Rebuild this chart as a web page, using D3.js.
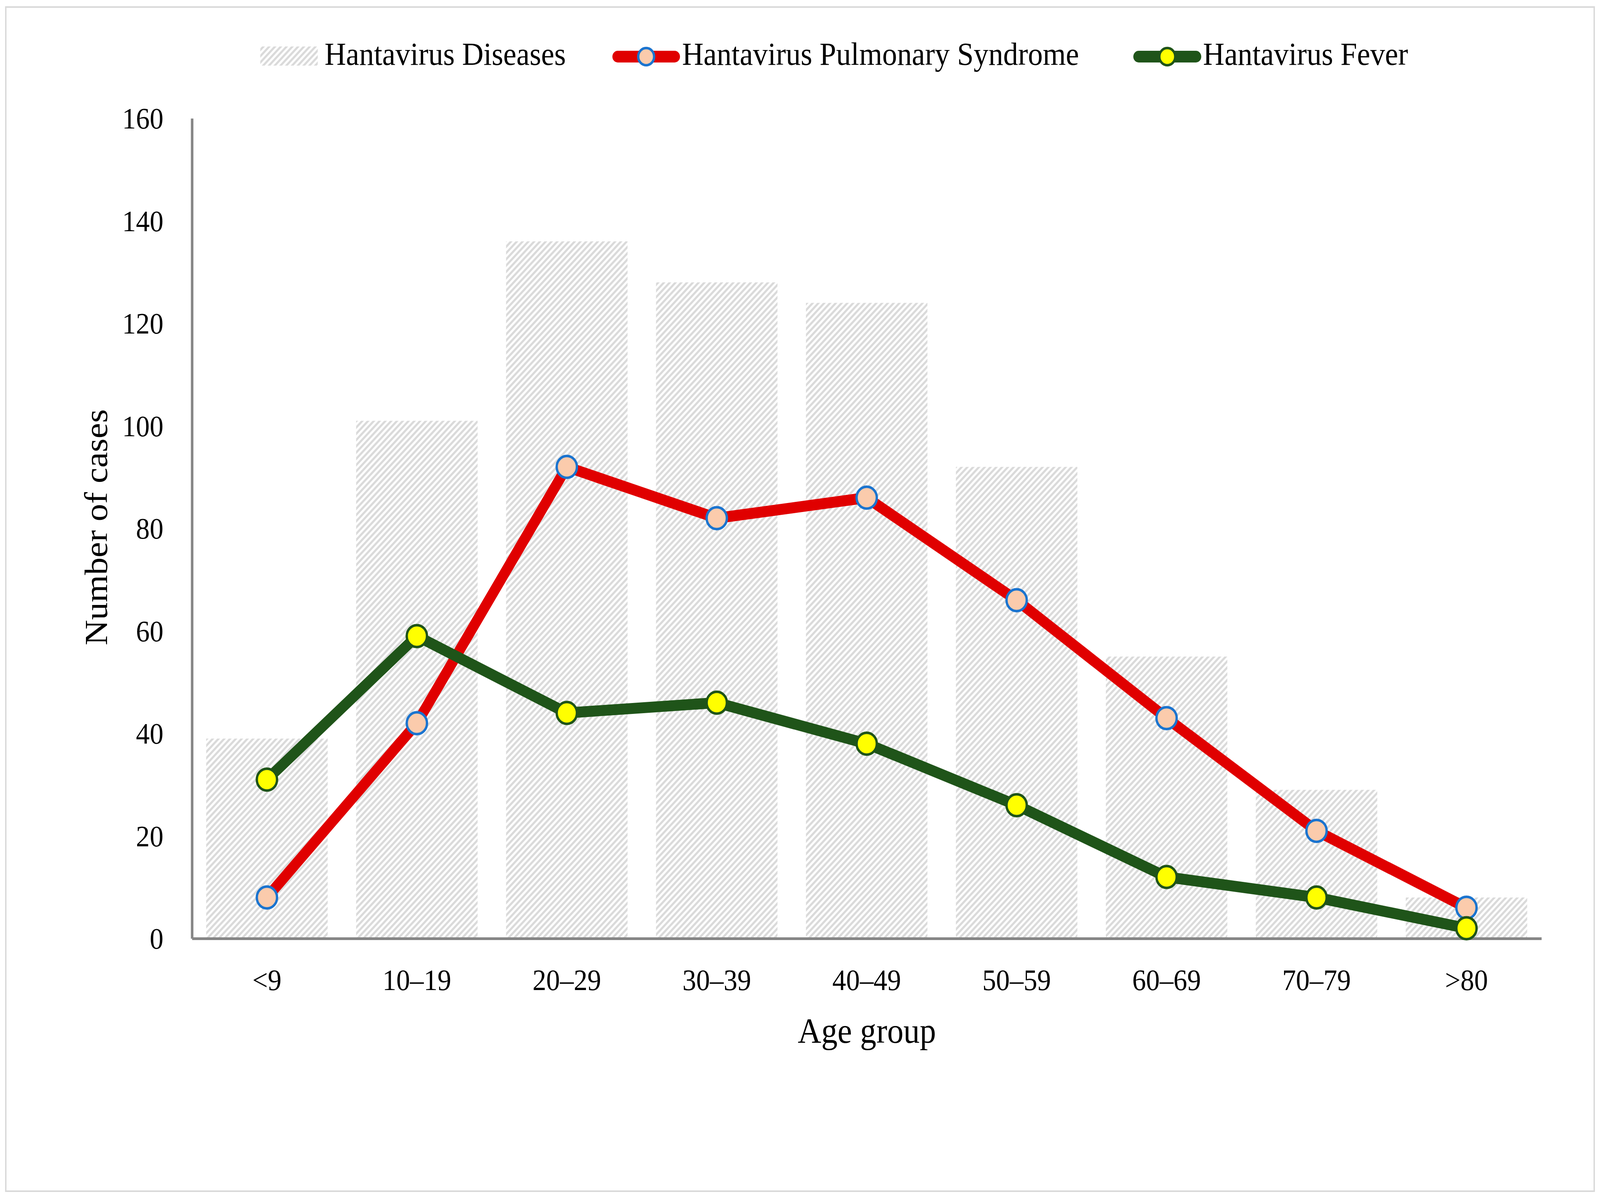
<!DOCTYPE html>
<html>
<head>
<meta charset="utf-8">
<script src="https://cdn.jsdelivr.net/npm/d3@7"></script>
<style>
  html, body { margin: 0; background: #fff; overflow: hidden; }
  svg { display: block; width: 100vw; height: 100vh; }
  text { font-family: "Liberation Serif", "DejaVu Serif", serif; fill: #000; }
</style>
</head>
<body>
<svg viewBox="0 0 4426 3070" preserveAspectRatio="none"></svg>
<script>
var ageGroups = ["<9", "10–19", "20–29", "30–39", "40–49", "50–59", "60–69", "70–79", ">80"];
var diseases = [39, 101, 136, 128, 124, 92, 55, 29, 8];
var pulmonary = [8, 42, 92, 82, 86, 66, 43, 21, 6];
var fever = [31, 59, 44, 46, 38, 26, 12, 8, 2];
var yTicks = [0, 20, 40, 60, 80, 100, 120, 140, 160];
var seriesNames = ["Hantavirus Diseases", "Hantavirus Pulmonary Syndrome", "Hantavirus Fever"];

var svg = d3.select("svg");

var width = 4426,
    height = 3070;

// plot area edges
var plotLeft = 531, plotRight = 4264, plotTop = 303, plotBottom = 2403;

var red = "#e00000", peach = "#fbcbac", blue = "#1b74cf",
    green = "#1f5419", yellow = "#ffff00", axisGray = "#868686";

svg.append("rect")
    .attr("width", width).attr("height", height)
    .attr("fill", "#fff");

// outer frame
svg.append("rect")
    .attr("x", 16).attr("y", 18)
    .attr("width", 4394).attr("height", 3032)
    .attr("fill", "none")
    .attr("stroke", "#d9d9d9")
    .attr("stroke-width", 4);

// hatch pattern for the bars
var pat = svg.append("defs").append("pattern")
    .attr("id", "hatch")
    .attr("patternUnits", "userSpaceOnUse")
    .attr("width", 16).attr("height", 16);
pat.append("rect").attr("width", 16).attr("height", 16).attr("fill", "#fff");
pat.append("path")
    .attr("d", "M-4,4 L4,-4 M0,16 L16,0 M12,20 L20,12")
    .attr("stroke", "#dadada")
    .attr("stroke-width", 5.7);

var x = d3.scaleBand()
    .domain(ageGroups)
    .range([plotLeft, plotRight])
    .paddingInner(0.19)
    .paddingOuter(0.095);

var y = d3.scaleLinear()
    .domain([0, 160])
    .range([plotBottom, plotTop]);

var cx = function(d, i) { return x(ageGroups[i]) + x.bandwidth() / 2; };

svg.append("g").selectAll("rect")
    .data(diseases)
  .enter().append("rect")
    .attr("x", function(d, i) { return x(ageGroups[i]); })
    .attr("y", function(d) { return y(d); })
    .attr("width", x.bandwidth())
    .attr("height", function(d) { return y(0) - y(d); })
    .attr("fill", "url(#hatch)");

// axes
var yAxis = svg.append("g")
    .attr("transform", "translate(" + plotLeft + ",0)")
    .call(d3.axisLeft(y).tickValues(yTicks).tickSize(0).tickPadding(79));
yAxis.select(".domain").attr("stroke", axisGray).attr("stroke-width", 7);
yAxis.selectAll("text")
    .attr("font-size", 76)
    .attr("fill", "#000")
    .attr("dy", "0.34em")
    .style("font-family", "'Liberation Serif', serif");

var xAxis = svg.append("g")
    .attr("transform", "translate(0," + plotBottom + ")")
    .call(d3.axisBottom(x).tickSize(0).tickPadding(0));
xAxis.select(".domain").attr("stroke", axisGray).attr("stroke-width", 7);
xAxis.selectAll("text")
    .attr("font-size", 76)
    .attr("fill", "#000")
    .attr("y", 132)
    .attr("dy", 0)
    .style("font-family", "'Liberation Serif', serif");

// lines
var line = d3.line()
    .x(function(d, i) { return cx(d, i); })
    .y(function(d) { return y(d); });

function drawSeries(values, stroke, fill, ring) {
  svg.append("path")
      .datum(values)
      .attr("d", line)
      .attr("fill", "none")
      .attr("stroke", stroke)
      .attr("stroke-width", 28)
      .attr("stroke-linejoin", "round");
  svg.append("g").selectAll("circle")
      .data(values)
    .enter().append("circle")
      .attr("cx", cx)
      .attr("cy", function(d) { return y(d); })
      .attr("r", 28)
      .attr("fill", fill)
      .attr("stroke", ring)
      .attr("stroke-width", 6.5);
}

drawSeries(pulmonary, red, peach, blue);
drawSeries(fever, green, yellow, green);

// axis titles
svg.append("text")
    .attr("x", 2398).attr("y", 2670)
    .attr("text-anchor", "middle")
    .attr("font-size", 90)
    .text("Age group");

svg.append("text")
    .attr("transform", "translate(296,1350) rotate(-90)")
    .attr("text-anchor", "middle")
    .attr("font-size", 90)
    .text("Number of cases");

// legend
var legend = svg.append("g");
legend.append("rect")
    .attr("x", 720).attr("y", 119)
    .attr("width", 159).attr("height", 49)
    .attr("fill", "url(#hatch)");
legend.append("text")
    .attr("x", 898).attr("y", 166)
    .attr("font-size", 82)
    .text(seriesNames[0]);

var legendLines = [
  {x0: 1695, x1: 1880, stroke: red, fill: peach, ring: blue, tx: 1887, name: seriesNames[1]},
  {x0: 3136, x1: 3322, stroke: green, fill: yellow, ring: green, tx: 3328, name: seriesNames[2]}
];
legendLines.forEach(function(d) {
  legend.append("line")
      .attr("x1", d.x0 + 14).attr("x2", d.x1 - 14)
      .attr("y1", 145).attr("y2", 145)
      .attr("stroke", d.stroke)
      .attr("stroke-width", 30)
      .attr("stroke-linecap", "round");
  legend.append("circle")
      .attr("cx", (d.x0 + d.x1) / 2).attr("cy", 145)
      .attr("r", 22)
      .attr("fill", d.fill)
      .attr("stroke", d.ring)
      .attr("stroke-width", 6.5);
  legend.append("text")
      .attr("x", d.tx).attr("y", 166)
      .attr("font-size", 82)
      .text(d.name);
});
</script>
</body>
</html>
